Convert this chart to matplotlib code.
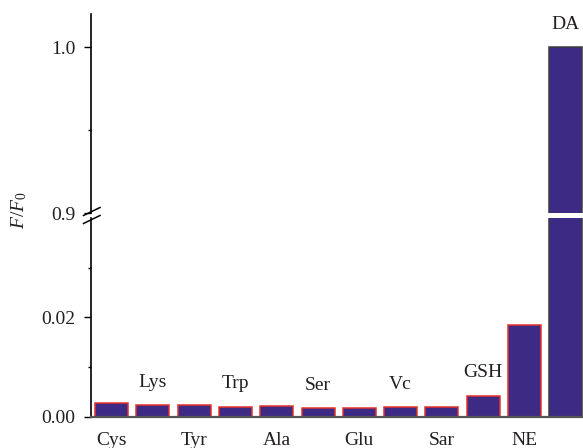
import matplotlib
matplotlib.use("Agg")
import matplotlib.pyplot as plt
import matplotlib.transforms as mtransforms
from matplotlib.lines import Line2D

plt.rcParams['font.family'] = ['Liberation Serif', 'DejaVu Serif']
plt.rcParams['mathtext.fontset'] = 'custom'
plt.rcParams['mathtext.rm'] = 'Liberation Serif'
plt.rcParams['mathtext.it'] = 'Liberation Serif:italic'

# Quenching response F/F0 of each analyte
analytes = ["Cys", "Lys", "Tyr", "Trp", "Ala", "Ser", "Glu", "Vc", "Sar", "GSH", "NE", "DA"]
ratio = [0.0027, 0.0023, 0.0023, 0.0020, 0.0022, 0.0017, 0.0017, 0.0019, 0.0019, 0.0042, 0.0185, 1.0]

low_ticks = [0.00, 0.02]
low_tick_labels = ["0.00", "0.02"]
high_ticks = [0.9, 1.0]
high_tick_labels = ["0.9", "1.0"]

fill = "#3d2a84"
edge_red = "#e3302c"
edge_dark = "#3a3a3a"
text_color = "#231f20"

W, H = 583, 448
fig = plt.figure(figsize=(W / 100, H / 100), dpi=100)

def fx(px):
    return px / W

def fy(py):
    return (H - py) / H

left = fx(91)
ax_lo = fig.add_axes([left, fy(416.7), 1 - left, fy(218) - fy(416.7)])
ax_hi = fig.add_axes([left, fy(213), 1 - left, fy(14) - fy(213)], sharex=ax_lo)

x = list(range(len(analytes)))
edges = [edge_dark if a == "DA" else edge_red for a in analytes]
for ax in (ax_lo, ax_hi):
    ax.bar(x, ratio, width=0.8, color=fill, edgecolor=edges, linewidth=1.1, zorder=2)
    ax.spines['top'].set_visible(False)
    ax.spines['right'].set_visible(False)
    ax.spines['left'].set_linewidth(1.2)
    ax.tick_params(axis='y', which='major', length=5, width=1.0, labelsize=14,
                   pad=6, labelcolor=text_color)
    ax.tick_params(axis='y', which='minor', length=2.5, width=1.0)
    ax.tick_params(axis='x', bottom=False, labelbottom=False)

ax_lo.set_xlim(-0.5, 11.42)
ax_lo.set_ylim(0, 0.04)
ax_lo.set_yticks(low_ticks)
ax_lo.set_yticklabels(low_tick_labels)
ax_lo.set_yticks([0.01, 0.03], minor=True)
ax_lo.spines['bottom'].set_color("#555555")
ax_lo.spines['bottom'].set_linewidth(1.6)

ax_hi.set_ylim(0.9, 1.02)
ax_hi.set_yticks(high_ticks)
ax_hi.set_yticklabels(high_tick_labels)
ax_hi.set_yticks([0.95], minor=True)
ax_hi.spines['bottom'].set_visible(False)
ax_hi.patch.set_visible(False)

# Category labels: alternate below the axis and above the bars
below = mtransforms.blended_transform_factory(ax_lo.transData, ax_lo.transAxes)
for i, (name, v) in enumerate(zip(analytes, ratio)):
    if i % 2 == 0:
        ax_lo.text(i, -0.118, name, transform=below, ha='center', va='center',
                   fontsize=14, color=text_color, clip_on=False)
    else:
        target = ax_hi if v >= 0.9 else ax_lo
        target.annotate(name, (i, v), xytext=(0, 16.5), textcoords='offset points',
                        ha='center', va='center', fontsize=14, color=text_color,
                        annotation_clip=False)

# Axis break marks on the left spine
for yc in (211.5, 219.5):
    fig.add_artist(Line2D([fx(83.5), fx(100)], [fy(yc + 4), fy(yc - 4)],
                          transform=fig.transFigure, color='black', linewidth=1.1))

fig.text(fx(19), fy(210), r"$F/F_0$", rotation=90, ha='center', va='center',
         fontsize=14, color=text_color)

fig.savefig("out.png", dpi=100)
